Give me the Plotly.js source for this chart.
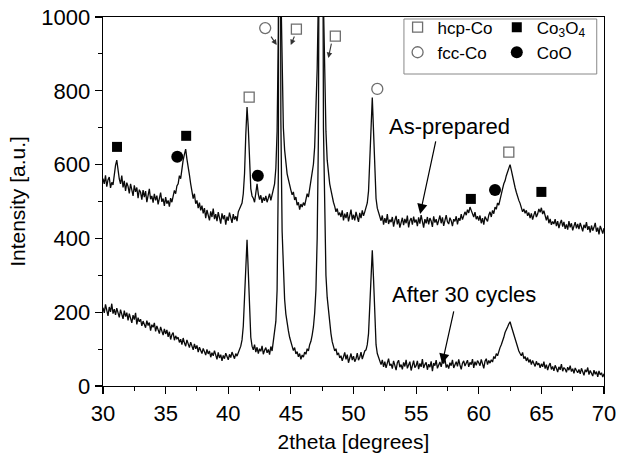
<!DOCTYPE html>
<html><head><meta charset="utf-8">
<script src="https://cdn.plot.ly/plotly-3.0.1.min.js"></script>
<style>html,body{margin:0;padding:0;background:#fff;} #chart{width:617px;height:463px;}</style>
</head><body><div id="chart"></div>
<script>
// 2theta sampling grid (degrees)
const twoThetaStart = 30.0;
const twoThetaStep = 0.1;

// As-prepared pattern, one row per degree (30.0 ... 70.0)
const asPrepared = [
562,548,571,540,559,566,537,552,545,575,
598,612,584,561,548,570,538,556,529,551,
541,522,548,530,515,544,526,538,509,532,
525,505,531,512,528,498,519,534,506,515,
497,521,503,516,492,511,524,499,508,488,
512,494,503,486,509,498,515,530,521,542,
548,570,562,594,612,628,642,615,598,572,
548,532,508,521,494,503,482,497,476,489,
468,482,455,477,461,449,473,458,481,452,
466,447,471,455,440,468,452,463,437,459,
448,470,455,442,466,451,460,447,472,479,
488,496,521,575,680,756,700,590,535,515,
509,498,524,548,520,505,517,496,511,502,
515,498,509,521,503,517,532,548,590,690,
960,3000,1080,820,700,640,600,575,560,542,
531,518,526,504,512,490,498,478,493,485,
497,489,508,521,512,535,548,572,601,648,
730,860,1060,2200,3600,2300,1040,800,690,612,
575,548,531,509,498,487,472,481,463,470,
458,476,449,467,455,471,446,462,478,451,
464,449,472,458,445,469,455,476,461,472,
482,496,528,612,722,782,690,578,508,482,
468,459,448,462,437,455,442,466,439,451,
444,458,432,449,461,438,452,429,447,456,
436,453,441,462,430,448,455,437,459,443,
451,433,457,440,463,446,429,452,441,458,
438,455,447,431,460,443,452,436,449,462,
441,457,434,450,463,445,439,456,448,433,
452,446,460,438,455,448,466,451,459,472,
463,478,469,485,476,466,458,471,452,460,
448,462,441,455,437,459,450,446,463,472,
458,476,467,485,479,496,490,508,521,534,
548,556,570,582,588,600,585,566,552,538,
525,512,503,495,486,472,480,468,476,461,
470,455,468,451,463,474,458,466,480,471,
483,466,475,458,449,462,441,453,437,446,
439,452,433,447,428,441,450,432,445,426,
438,424,447,430,441,422,436,444,427,439,
425,442,431,419,437,428,444,423,433,416,
435,421,430,442,418,429,411,434,424,413,
428
];

// After 30 cycles pattern, one row per degree (30.0 ... 70.0)
const after30Cycles = [
212,198,221,205,190,214,201,223,196,208,
193,211,200,186,207,195,182,204,188,199,
178,196,184,171,192,180,198,167,185,174,
181,163,176,169,158,177,164,172,150,166,
159,171,148,163,154,142,160,149,138,155,
141,152,133,147,126,139,145,124,136,128,
132,118,127,112,130,117,108,125,113,104,
119,106,98,114,101,110,92,105,97,88,
102,91,84,99,87,95,78,90,82,96,
80,72,91,76,85,68,83,74,89,79,
71,86,77,92,80,74,88,81,90,97,
108,125,162,240,340,396,310,190,132,108,
98,112,92,105,88,101,94,109,86,97,
104,90,99,85,107,95,118,140,175,260,
580,2600,720,420,300,235,195,168,150,132,
122,108,96,104,87,93,79,88,72,84,
78,92,86,101,95,112,121,138,160,198,
260,400,680,1800,3300,1900,700,430,300,240,
205,168,142,120,109,95,101,84,90,76,
82,68,79,91,72,85,63,77,88,70,
81,66,74,89,70,78,92,73,84,95,
98,112,142,235,330,368,290,170,112,88,
76,63,58,71,52,66,49,62,74,55,
60,47,68,56,43,63,70,51,58,45,
64,53,71,48,59,66,42,57,69,50,
55,68,46,61,52,73,49,58,64,44,
59,51,67,40,62,55,70,48,57,65,
52,68,61,74,50,58,47,63,55,71,
49,60,66,53,72,57,45,62,68,54,
61,70,52,64,58,73,49,66,56,69,
63,55,72,60,48,67,74,58,69,62,
71,65,80,74,88,82,95,104,112,126,
132,145,151,160,168,174,162,150,138,126,
112,104,95,88,82,91,74,80,68,77,
64,72,58,69,61,53,67,57,62,49,
60,52,66,47,58,43,55,62,45,53,
41,56,48,38,52,44,59,40,50,46,
37,51,43,55,39,47,34,49,42,36,
45,33,48,40,29,44,38,50,31,42,
35,27,43,32,39,25,41,30,36,24,
33
];

// Phase marker positions (2theta, intensity)
const hcpX = [41.67, 45.44, 48.55, 62.4];
const hcpY = [783, 967, 948, 634];
const fccX = [42.95, 51.9];
const fccY = [970, 805];
const co3o4X = [31.12, 36.64, 59.37, 65.0];
const co3o4Y = [648, 678, 507, 526];
const cooX = [35.93, 42.36, 61.3];
const cooY = [621, 570, 531];

const seriesLabels = ['As-prepared', 'After 30 cycles'];
const phaseLabels = ['hcp-Co', 'fcc-Co', 'Co<sub>3</sub>O<sub>4</sub>', 'CoO'];

const twoTheta = asPrepared.map((_, i) => +(twoThetaStart + i * twoThetaStep).toFixed(1));

const FONT = 'Liberation Sans, Arial, sans-serif';

const traces = [
  {x: twoTheta, y: asPrepared, type: 'scatter', mode: 'lines', name: seriesLabels[0],
   line: {color: '#0a0a0a', width: 1.3}, showlegend: false, hoverinfo: 'skip'},
  {x: twoTheta, y: after30Cycles, type: 'scatter', mode: 'lines', name: seriesLabels[1],
   line: {color: '#0a0a0a', width: 1.3}, showlegend: false, hoverinfo: 'skip'},
  {x: hcpX, y: hcpY, type: 'scatter', mode: 'markers', name: phaseLabels[0], legend: 'legend',
   marker: {symbol: 'square-open', size: 10, color: '#6e6e6e', line: {width: 1.3}}},
  {x: fccX, y: fccY, type: 'scatter', mode: 'markers', name: phaseLabels[1], legend: 'legend',
   marker: {symbol: 'circle-open', size: 11, color: '#6e6e6e', line: {width: 1.3}}},
  {x: co3o4X, y: co3o4Y, type: 'scatter', mode: 'markers', name: phaseLabels[2], legend: 'legend2',
   marker: {symbol: 'square', size: 10, color: '#000'}},
  {x: cooX, y: cooY, type: 'scatter', mode: 'markers', name: phaseLabels[3], legend: 'legend2',
   marker: {symbol: 'circle', size: 12, color: '#000'}}
];

const axisCommon = {
  showgrid: false, zeroline: false, showline: true, linecolor: '#000', linewidth: 1.3,
  mirror: true, ticks: 'outside', ticklen: 7, tickwidth: 1.2, tickcolor: '#000',
  tickfont: {family: FONT, size: 22, color: '#000'}
};

const legendCommon = {
  xanchor: 'left', yanchor: 'top', bgcolor: 'rgba(0,0,0,0)', borderwidth: 0,
  font: {family: FONT, size: 17, color: '#000'}, tracegroupgap: 0, itemwidth: 30
};

const arrowCommon = {xref: 'x', yref: 'y', axref: 'x', ayref: 'y', text: '', showarrow: true,
  arrowcolor: '#000'};

const layout = {
  width: 617, height: 463,
  margin: {l: 103, r: 13, t: 17, b: 77, autoexpand: false},
  paper_bgcolor: '#fff', plot_bgcolor: '#fff',
  font: {family: FONT, color: '#000'},
  xaxis: Object.assign({}, axisCommon, {
    range: [30, 70], tick0: 30, dtick: 5,
    minor: {dtick: 2.5, ticks: 'outside', ticklen: 4, tickwidth: 1, tickcolor: '#000'},
    title: {text: '2theta [degrees]', font: {family: FONT, size: 21, color: '#000'}, standoff: 9}
  }),
  yaxis: Object.assign({}, axisCommon, {
    range: [0, 1000], tick0: 0, dtick: 200,
    minor: {dtick: 100, ticks: 'outside', ticklen: 4, tickwidth: 1, tickcolor: '#000'},
    title: {text: 'Intensity [a.u.]', font: {family: FONT, size: 21, color: '#000'}, standoff: 10}
  }),
  legend: Object.assign({}, legendCommon, {x: 0.588, y: 1.02}),
  legend2: Object.assign({}, legendCommon, {x: 0.786, y: 1.02}),
  shapes: [
    {type: 'rect', xref: 'paper', yref: 'paper', x0: 0.6007, x1: 0.9855, y0: 0.8455, y1: 0.9946,
     line: {color: '#888', width: 1}, fillcolor: 'rgba(0,0,0,0)'}
  ],
  annotations: [
    {xref: 'x', yref: 'y', x: 57.7, y: 702, text: seriesLabels[0], showarrow: false,
     font: {family: FONT, size: 22, color: '#000'}},
    {xref: 'x', yref: 'y', x: 58.83, y: 249, text: seriesLabels[1], showarrow: false,
     font: {family: FONT, size: 22, color: '#000'}},
    Object.assign({}, arrowCommon, {x: 55.32, y: 466, ax: 56.59, ay: 667, arrowhead: 2, arrowsize: 1.7, arrowwidth: 1.2}),
    Object.assign({}, arrowCommon, {x: 57.07, y: 60, ax: 58.03, ay: 206, arrowhead: 2, arrowsize: 1.7, arrowwidth: 1.2}),
    Object.assign({}, arrowCommon, {x: 43.87, y: 924, ax: 43.34, ay: 951, arrowhead: 2, arrowsize: 1, arrowwidth: 1.1, arrowcolor: '#333'}),
    Object.assign({}, arrowCommon, {x: 44.99, y: 924, ax: 45.33, ay: 951, arrowhead: 2, arrowsize: 1, arrowwidth: 1.1, arrowcolor: '#333'}),
    Object.assign({}, arrowCommon, {x: 47.99, y: 889, ax: 48.26, ay: 932, arrowhead: 2, arrowsize: 1, arrowwidth: 1.1, arrowcolor: '#333'})
  ]
};

Plotly.newPlot('chart', traces, layout, {displayModeBar: false, staticPlot: true});
</script>
</body></html>
